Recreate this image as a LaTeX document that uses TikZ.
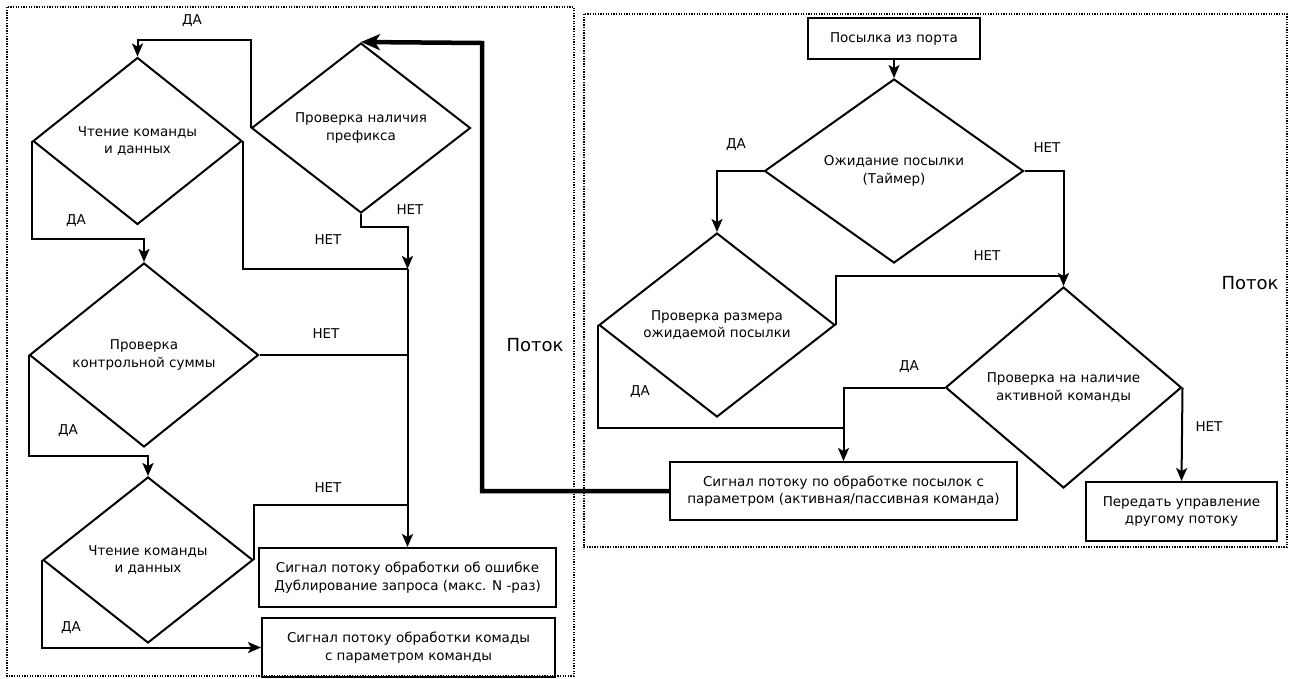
\documentclass[tikz,border=0pt]{standalone}
\usepackage{fontspec}
\setmainfont{DejaVu Sans}
\usetikzlibrary{shapes.geometric,arrows.meta}

\newcommand\flowfont{\fontsize{13.5}{17.5}\selectfont}
\newcommand\threadfont{\fontsize{18}{20}\selectfont}

\tikzset{
  decision/.style={draw, diamond, line width=2pt, aspect=1.3, inner sep=0pt, align=center, font=\flowfont},
  block/.style={draw, rectangle, line width=2pt, inner sep=0pt, align=center, font=\flowfont},
  line/.style={line width=2pt},
  arr/.style={line width=2pt, -{Stealth[length=13pt,width=11pt,inset=3pt]}},
  mainarr/.style={line width=4.5pt, -{Stealth[length=19pt,width=16pt,inset=5pt]}},
  frame/.style={line width=1.1pt, dash pattern=on 1.3pt off 1.3pt},
  lbl/.style={font=\flowfont}
}

\begin{document}
\begin{tikzpicture}[x=1pt,y=-1pt]
  \useasboundingbox (0,0) rectangle (1289,678);

  % thread frames
  \draw[frame] (7,7) rectangle (574,676);
  \draw[frame] (584,14) rectangle (1287,547);
  \node[font=\threadfont] (threadL) at (535,345) {Поток};
  \node[font=\threadfont] (threadR) at (1250,283) {Поток};

  % left thread
  \node[decision, minimum width=209pt, minimum height=167pt] (read1) at (137.5,141) {Чтение команды\\и данных};
  \node[decision, minimum width=219pt, minimum height=170pt] (prefix) at (361,128) {Проверка наличия\\префикса};
  \node[decision, minimum width=229pt, minimum height=184pt] (checksum) at (144,355) {Проверка\\контрольной суммы};
  \node[decision, minimum width=210pt, minimum height=166pt] (read2) at (148,560) {Чтение команды\\и данных};
  \node[block, minimum width=297pt, minimum height=59pt] (err) at (407.5,577.5) {Сигнал потоку обработки об ошибке\\Дублирование запроса (макс. N -раз)};
  \node[block, minimum width=293pt, minimum height=59pt] (cmd) at (408.5,647.5) {Сигнал потоку обработки комады\\с параметром команды};
  \coordinate (bus) at (407.5,269);

  \draw[arr] (prefix.west) -- ++(0,-88) -| (read1.north);
  \draw[arr] (prefix.south) -- ++(0,13) -| (bus);
  \draw[line] (read1.east) |- (bus);
  \draw[arr] (bus) -- (err.north);
  \draw[line] (checksum.east) -- (bus |- checksum.east);
  \draw[line] (read2.east) -- ++(0,-55) -- (bus |- 0,505);
  \draw[arr] (read1.west) -- ++(0,98) -| (checksum.north);
  \draw[arr] (checksum.west) -- ++(0,101) -| (read2.north);
  \draw[arr] (read2.west) |- (cmd.west);

  \node[lbl] at (192,21) {ДА};
  \node[lbl] at (410,210) {НЕТ};
  \node[lbl] at (328,240) {НЕТ};
  \node[lbl] at (76,221) {ДА};
  \node[lbl] at (326,334) {НЕТ};
  \node[lbl] at (68,431) {ДА};
  \node[lbl] at (328,488) {НЕТ};
  \node[lbl] at (71,628) {ДА};

  % right thread
  \node[block, minimum width=172pt, minimum height=41pt] (port) at (894,38.5) {Посылка из порта};
  \node[decision, minimum width=259pt, minimum height=184pt] (wait) at (894,171) {Ожидание посылки\\(Таймер)};
  \node[decision, minimum width=236pt, minimum height=184pt] (size) at (717,325) {Проверка размера\\ожидаемой посылки};
  \node[decision, minimum width=236pt, minimum height=201pt] (active) at (1063.5,387.5) {Проверка на наличие\\активной команды};
  \node[block, minimum width=347pt, minimum height=58pt] (sig) at (843.5,491) {Сигнал потоку по обработке посылок с\\параметром (активная/пассивная команда)};
  \node[block, minimum width=191pt, minimum height=59pt] (pass) at (1181.5,511.5) {Передать управление\\другому потоку};

  \draw[arr] (port.south) -- (wait.north);
  \draw[arr] (wait.west) -| (size.north);
  \draw[arr] (wait.east) -| (active.north);
  \draw[line] (size.east) -- ++(0,-49) -- (active.north |- 0,276);
  \draw[line] (size.west) -- ++(0,103) -- (sig.north |- 0,428);
  \draw[arr] (active.west) -| (sig.north);
  \draw[arr] (active.east) -- (pass.north);

  \node[lbl] at (736,145) {ДА};
  \node[lbl] at (1047,148) {НЕТ};
  \node[lbl] at (987,256) {НЕТ};
  \node[lbl] at (640,392) {ДА};
  \node[lbl] at (909,367) {ДА};
  \node[lbl] at (1209,427) {НЕТ};

  % signal back to the left thread
  \coordinate (loop) at (482,43);
  \draw[mainarr] (sig.west) -| (loop) -- (prefix.north);
\end{tikzpicture}
\end{document}
